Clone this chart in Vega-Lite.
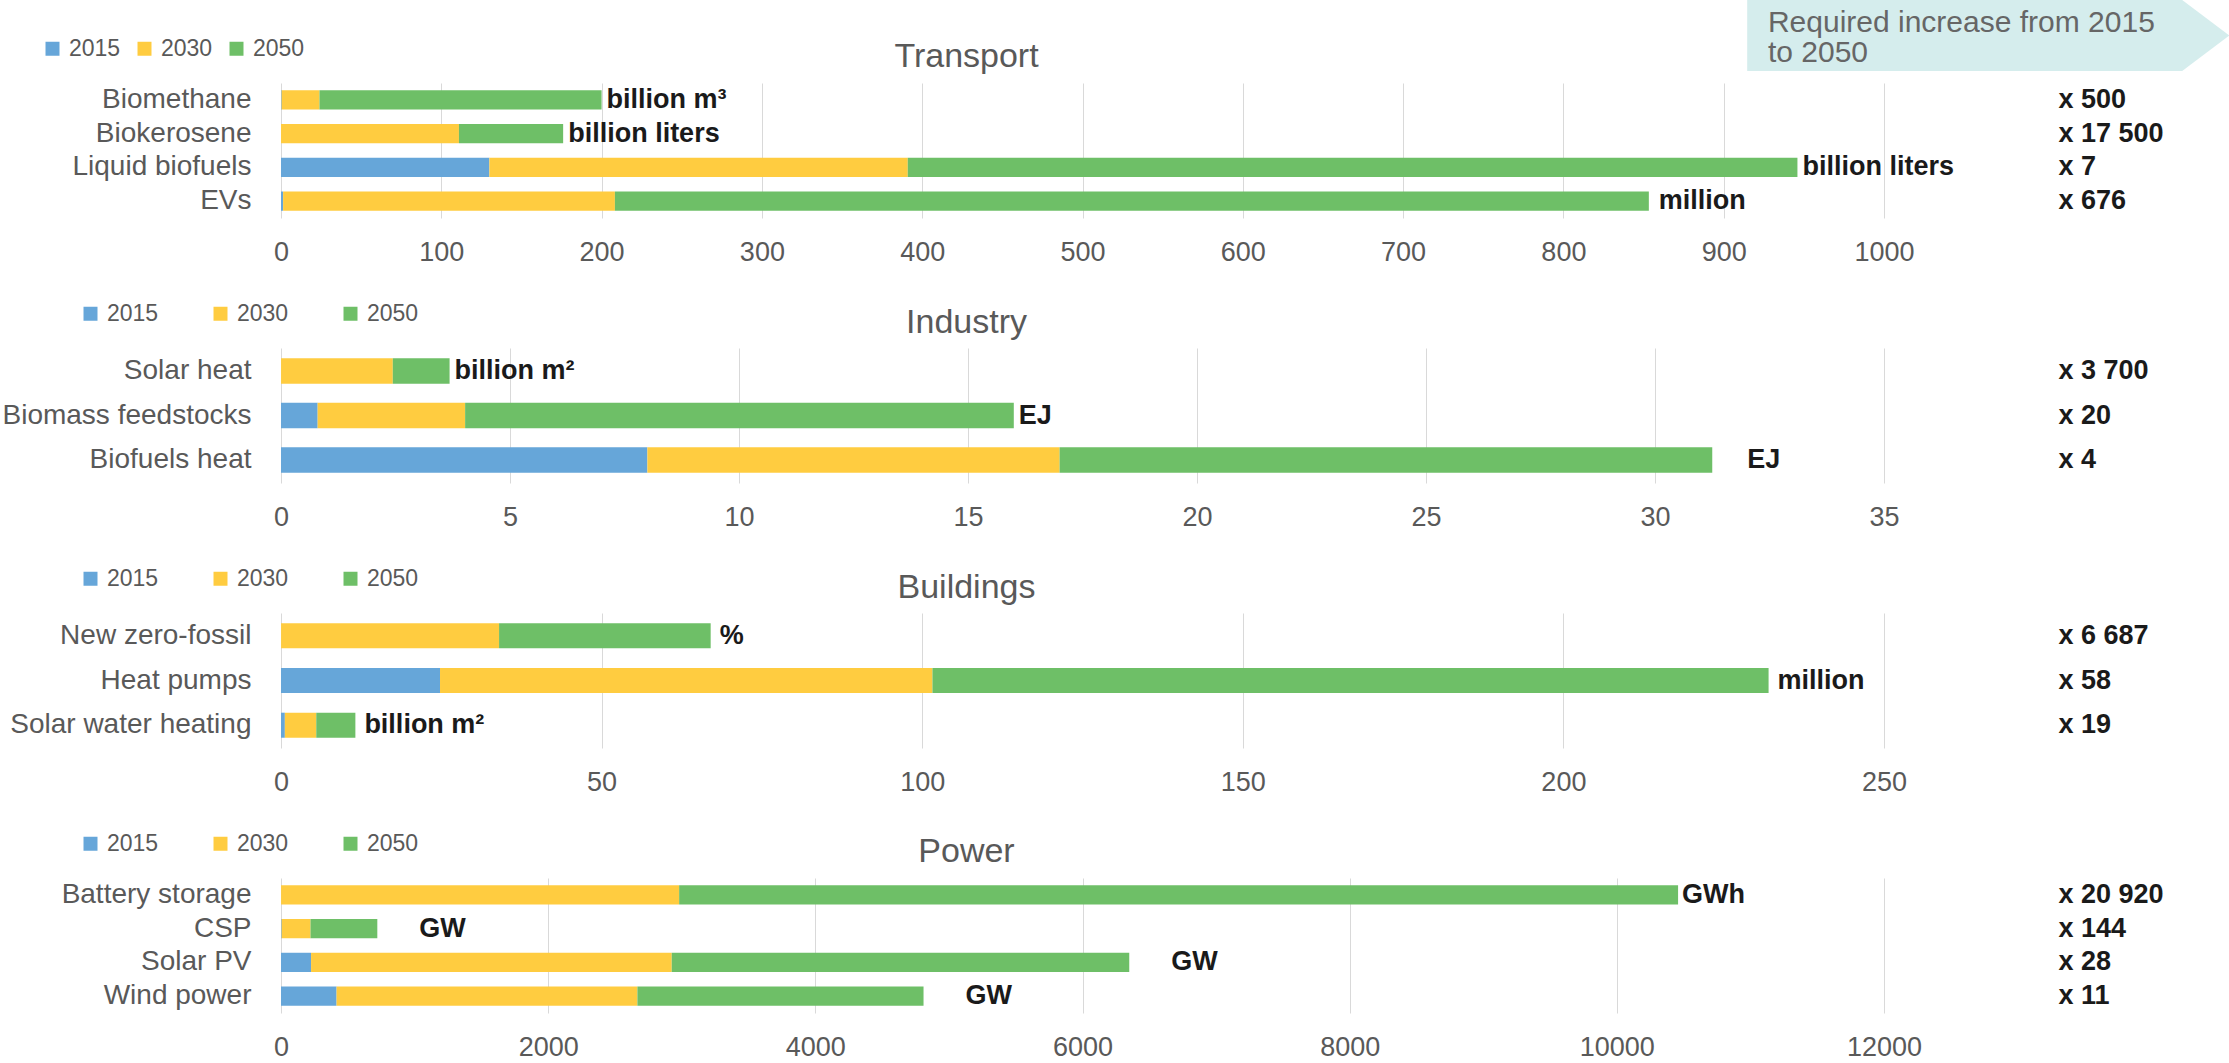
{
  "$schema": "https://vega.github.io/schema/vega-lite/v6.json",
  "padding": {"left": 2, "top": 0, "right": 0, "bottom": 0},
  "background": "white",
  "config": {
    "view": {"stroke": null},
    "font": "Liberation Sans",
    "axis": {"labelFont": "Liberation Sans", "labelColor": "#595959", "domain": false, "ticks": false, "title": null},
    "legend": {"labelFont": "Liberation Sans", "labelFontSize": 23, "labelColor": "#595959", "symbolType": "square", "symbolSize": 196, "symbolStrokeWidth": 0, "symbolOpacity": 1, "labelOffset": 5, "direction": "horizontal", "orient": "none", "title": null, "padding": 0},
    "title": {"font": "Liberation Sans", "fontSize": 34, "color": "#595959", "fontWeight": "normal"}
  },
  "datasets": {
    "transport": [
      {"cat": "Biomethane", "year": "2015", "value": 0.4, "unit": "billion m³"},
      {"cat": "Biomethane", "year": "2030", "value": 23.6, "unit": "billion m³"},
      {"cat": "Biomethane", "year": "2050", "value": 176, "unit": "billion m³"},
      {"cat": "Biokerosene", "year": "2015", "value": 0.01, "unit": "billion liters"},
      {"cat": "Biokerosene", "year": "2030", "value": 111, "unit": "billion liters"},
      {"cat": "Biokerosene", "year": "2050", "value": 65, "unit": "billion liters"},
      {"cat": "Liquid biofuels", "year": "2015", "value": 130, "unit": "billion liters"},
      {"cat": "Liquid biofuels", "year": "2030", "value": 261, "unit": "billion liters"},
      {"cat": "Liquid biofuels", "year": "2050", "value": 555, "unit": "billion liters"},
      {"cat": "EVs", "year": "2015", "value": 1.3, "unit": "million"},
      {"cat": "EVs", "year": "2030", "value": 207, "unit": "million"},
      {"cat": "EVs", "year": "2050", "value": 645, "unit": "million"}
    ],
    "industry": [
      {"cat": "Solar heat", "year": "2015", "value": 0.001, "unit": "billion m²"},
      {"cat": "Solar heat", "year": "2030", "value": 2.44, "unit": "billion m²"},
      {"cat": "Solar heat", "year": "2050", "value": 1.24, "unit": "billion m²"},
      {"cat": "Biomass feedstocks", "year": "2015", "value": 0.8, "unit": "EJ"},
      {"cat": "Biomass feedstocks", "year": "2030", "value": 3.22, "unit": "EJ"},
      {"cat": "Biomass feedstocks", "year": "2050", "value": 11.98, "unit": "EJ"},
      {"cat": "Biofuels heat", "year": "2015", "value": 8.0, "unit": "EJ"},
      {"cat": "Biofuels heat", "year": "2030", "value": 9.0, "unit": "EJ"},
      {"cat": "Biofuels heat", "year": "2050", "value": 14.25, "unit": "EJ"}
    ],
    "buildings": [
      {"cat": "New zero-fossil", "year": "2015", "value": 0.01, "unit": "%"},
      {"cat": "New zero-fossil", "year": "2030", "value": 34, "unit": "%"},
      {"cat": "New zero-fossil", "year": "2050", "value": 33, "unit": "%"},
      {"cat": "Heat pumps", "year": "2015", "value": 24.8, "unit": "million"},
      {"cat": "Heat pumps", "year": "2030", "value": 76.8, "unit": "million"},
      {"cat": "Heat pumps", "year": "2050", "value": 130.4, "unit": "million"},
      {"cat": "Solar water heating", "year": "2015", "value": 0.6, "unit": "billion m²"},
      {"cat": "Solar water heating", "year": "2030", "value": 4.9, "unit": "billion m²"},
      {"cat": "Solar water heating", "year": "2050", "value": 6.1, "unit": "billion m²"}
    ],
    "power": [
      {"cat": "Battery storage", "year": "2015", "value": 0.5, "unit": "GWh"},
      {"cat": "Battery storage", "year": "2030", "value": 2980, "unit": "GWh"},
      {"cat": "Battery storage", "year": "2050", "value": 7478, "unit": "GWh"},
      {"cat": "CSP", "year": "2015", "value": 5, "unit": "GW"},
      {"cat": "CSP", "year": "2030", "value": 216, "unit": "GW"},
      {"cat": "CSP", "year": "2050", "value": 500, "unit": "GW"},
      {"cat": "Solar PV", "year": "2015", "value": 225, "unit": "GW"},
      {"cat": "Solar PV", "year": "2030", "value": 2700, "unit": "GW"},
      {"cat": "Solar PV", "year": "2050", "value": 3425, "unit": "GW"},
      {"cat": "Wind power", "year": "2015", "value": 416, "unit": "GW"},
      {"cat": "Wind power", "year": "2030", "value": 2252, "unit": "GW"},
      {"cat": "Wind power", "year": "2050", "value": 2142, "unit": "GW"}
    ]
  },
  "resolve": {"legend": {"color": "independent"}},
  "bounds": "flush",
  "spacing": 130,
  "vconcat": [
    {
      "width": 1603, "height": 135,
      "title": {"text": "Transport", "anchor": "middle", "frame": "group", "dx": -116, "baseline": "middle", "offset": -91},
      "data": {"name": "transport"},
      "resolve": {"axis": {"y": "independent"}},
      "layer": [
        {
          "mark": {"type": "bar"},
          "encoding": {
            "y": {"field": "cat", "type": "nominal", "sort": ["Biomethane", "Biokerosene", "Liquid biofuels", "EVs"], "scale": {"paddingInner": 0.43, "paddingOuter": 0.215}, "axis": {"orient": "left", "labelFontSize": 28, "labelPadding": 30, "labelLimit": 400}},
            "x": {"field": "value", "type": "quantitative", "stack": "zero", "scale": {"domain": [0, 1000], "nice": false}, "axis": {"values": [0, 100, 200, 300, 400, 500, 600, 700, 800, 900, 1000], "format": "d", "grid": true, "gridColor": "#d9d9d9", "labelFontSize": 27, "labelPadding": 21, "labelFlush": false, "labelOverlap": false}},
            "color": {"field": "year", "type": "nominal", "scale": {"domain": ["2015", "2030", "2050"], "range": ["#66a6d9", "#ffcc40", "#6ebf67"]}, "legend": {"legendX": -240, "legendY": -46, "columnPadding": 12}},
            "order": {"field": "year"}
          }
        },
        {
          "transform": [{"filter": {"not": {"field": "cat", "oneOf": ["EVs"]}}}],
          "mark": {"type": "text", "align": "left", "baseline": "middle", "dx": 5, "fontSize": 27, "fontWeight": "bold", "color": "#1a1a1a"},
          "encoding": {
            "y": {"field": "cat", "type": "nominal", "sort": ["Biomethane", "Biokerosene", "Liquid biofuels", "EVs"], "axis": {"orient": "right", "labelAlign": "left", "labelPadding": 174, "labelFontSize": 27, "labelFontWeight": "bold", "labelColor": "#1a1a1a", "labelLimit": 400, "labelExpr": "datum.value == 'Biomethane' ? 'x 500' : datum.value == 'Biokerosene' ? 'x 17 500' : datum.value == 'Liquid biofuels' ? 'x 7' : 'x 676'"}},
            "x": {"aggregate": "sum", "field": "value", "type": "quantitative"},
            "text": {"field": "unit"}
          }
        },
        {
          "transform": [{"filter": {"field": "cat", "oneOf": ["EVs"]}}],
          "mark": {"type": "text", "align": "left", "baseline": "middle", "dx": 10, "fontSize": 27, "fontWeight": "bold", "color": "#1a1a1a"},
          "encoding": {
            "y": {"field": "cat", "type": "nominal", "sort": ["Biomethane", "Biokerosene", "Liquid biofuels", "EVs"], "axis": null},
            "x": {"aggregate": "sum", "field": "value", "type": "quantitative"},
            "text": {"field": "unit"}
          }
        },
        {
          "data": {"values": [{"note": "callout"}]},
          "mark": {"type": "point", "shape": "M-1,-0.1473L0.805,-0.1473L1,0L0.805,0.1473L-1,0.1473Z", "size": 232324, "filled": true, "fill": "#d5eded", "opacity": 1, "strokeWidth": 0},
          "encoding": {"x": {"datum": 1065, "type": "quantitative"}, "y": {"value": -47.5}}
        },
        {
          "data": {"values": [{"note": "callout"}]},
          "mark": {"type": "text", "text": ["Required increase from 2015", "to 2050"], "lineHeight": 30, "align": "left", "baseline": "middle", "fontSize": 30, "color": "#666666"},
          "encoding": {"x": {"datum": 927.6, "type": "quantitative"}, "y": {"value": -60}}
        }
      ]
    },
    {
      "width": 1603, "height": 135,
      "title": {"text": "Industry", "anchor": "middle", "frame": "group", "dx": -116, "baseline": "middle", "offset": -55},
      "data": {"name": "industry"},
      "resolve": {"axis": {"y": "independent"}},
      "layer": [
        {
          "mark": {"type": "bar"},
          "encoding": {
            "y": {"field": "cat", "type": "nominal", "sort": ["Solar heat", "Biomass feedstocks", "Biofuels heat"], "scale": {"paddingInner": 0.43, "paddingOuter": 0.23}, "axis": {"orient": "left", "labelFontSize": 28, "labelPadding": 30, "labelLimit": 400}},
            "x": {"field": "value", "type": "quantitative", "stack": "zero", "scale": {"domain": [0, 35], "nice": false}, "axis": {"values": [0, 5, 10, 15, 20, 25, 30, 35], "grid": true, "gridColor": "#d9d9d9", "labelFontSize": 27, "labelPadding": 21, "labelFlush": false, "labelOverlap": false}},
            "color": {"field": "year", "type": "nominal", "scale": {"domain": ["2015", "2030", "2050"], "range": ["#66a6d9", "#ffcc40", "#6ebf67"]}, "legend": {"legendX": -202, "legendY": -46, "columnPadding": 50}},
            "order": {"field": "year"}
          }
        },
        {
          "transform": [{"filter": {"not": {"field": "cat", "oneOf": ["Biofuels heat"]}}}],
          "mark": {"type": "text", "align": "left", "baseline": "middle", "dx": 5, "fontSize": 27, "fontWeight": "bold", "color": "#1a1a1a"},
          "encoding": {
            "y": {"field": "cat", "type": "nominal", "sort": ["Solar heat", "Biomass feedstocks", "Biofuels heat"], "axis": {"orient": "right", "labelAlign": "left", "labelPadding": 174, "labelFontSize": 27, "labelFontWeight": "bold", "labelColor": "#1a1a1a", "labelLimit": 400, "labelExpr": "datum.value == 'Solar heat' ? 'x 3 700' : datum.value == 'Biomass feedstocks' ? 'x 20' : 'x 4'"}},
            "x": {"aggregate": "sum", "field": "value", "type": "quantitative"},
            "text": {"field": "unit"}
          }
        },
        {
          "transform": [{"filter": {"field": "cat", "oneOf": ["Biofuels heat"]}}],
          "mark": {"type": "text", "align": "left", "baseline": "middle", "dx": 35, "fontSize": 27, "fontWeight": "bold", "color": "#1a1a1a"},
          "encoding": {
            "y": {"field": "cat", "type": "nominal", "sort": ["Solar heat", "Biomass feedstocks", "Biofuels heat"], "axis": null},
            "x": {"aggregate": "sum", "field": "value", "type": "quantitative"},
            "text": {"field": "unit"}
          }
        }
      ]
    },
    {
      "width": 1603, "height": 135,
      "title": {"text": "Buildings", "anchor": "middle", "frame": "group", "dx": -116, "baseline": "middle", "offset": -55},
      "data": {"name": "buildings"},
      "resolve": {"axis": {"y": "independent"}},
      "layer": [
        {
          "mark": {"type": "bar"},
          "encoding": {
            "y": {"field": "cat", "type": "nominal", "sort": ["New zero-fossil", "Heat pumps", "Solar water heating"], "scale": {"paddingInner": 0.44, "paddingOuter": 0.23}, "axis": {"orient": "left", "labelFontSize": 28, "labelPadding": 30, "labelLimit": 400}},
            "x": {"field": "value", "type": "quantitative", "stack": "zero", "scale": {"domain": [0, 250], "nice": false}, "axis": {"values": [0, 50, 100, 150, 200, 250], "grid": true, "gridColor": "#d9d9d9", "labelFontSize": 27, "labelPadding": 21, "labelFlush": false, "labelOverlap": false}},
            "color": {"field": "year", "type": "nominal", "scale": {"domain": ["2015", "2030", "2050"], "range": ["#66a6d9", "#ffcc40", "#6ebf67"]}, "legend": {"legendX": -202, "legendY": -46, "columnPadding": 50}},
            "order": {"field": "year"}
          }
        },
        {
          "mark": {"type": "text", "align": "left", "baseline": "middle", "dx": 9, "fontSize": 27, "fontWeight": "bold", "color": "#1a1a1a"},
          "encoding": {
            "y": {"field": "cat", "type": "nominal", "sort": ["New zero-fossil", "Heat pumps", "Solar water heating"], "axis": {"orient": "right", "labelAlign": "left", "labelPadding": 174, "labelFontSize": 27, "labelFontWeight": "bold", "labelColor": "#1a1a1a", "labelLimit": 400, "labelExpr": "datum.value == 'New zero-fossil' ? 'x 6 687' : datum.value == 'Heat pumps' ? 'x 58' : 'x 19'"}},
            "x": {"aggregate": "sum", "field": "value", "type": "quantitative"},
            "text": {"field": "unit"}
          }
        }
      ]
    },
    {
      "width": 1603, "height": 135,
      "title": {"text": "Power", "anchor": "middle", "frame": "group", "dx": -116, "baseline": "middle", "offset": -54},
      "data": {"name": "power"},
      "resolve": {"axis": {"y": "independent"}},
      "layer": [
        {
          "mark": {"type": "bar"},
          "encoding": {
            "y": {"field": "cat", "type": "nominal", "sort": ["Battery storage", "CSP", "Solar PV", "Wind power"], "scale": {"paddingInner": 0.43, "paddingOuter": 0.215}, "axis": {"orient": "left", "labelFontSize": 28, "labelPadding": 30, "labelLimit": 400}},
            "x": {"field": "value", "type": "quantitative", "stack": "zero", "scale": {"domain": [0, 12000], "nice": false}, "axis": {"values": [0, 2000, 4000, 6000, 8000, 10000, 12000], "format": "d", "grid": true, "gridColor": "#d9d9d9", "labelFontSize": 27, "labelPadding": 21, "labelFlush": false, "labelOverlap": false}},
            "color": {"field": "year", "type": "nominal", "scale": {"domain": ["2015", "2030", "2050"], "range": ["#66a6d9", "#ffcc40", "#6ebf67"]}, "legend": {"legendX": -202, "legendY": -46, "columnPadding": 50}},
            "order": {"field": "year"}
          }
        },
        {
          "transform": [{"filter": {"field": "cat", "oneOf": ["Battery storage"]}}],
          "mark": {"type": "text", "align": "left", "baseline": "middle", "dx": 4, "fontSize": 27, "fontWeight": "bold", "color": "#1a1a1a"},
          "encoding": {
            "y": {"field": "cat", "type": "nominal", "sort": ["Battery storage", "CSP", "Solar PV", "Wind power"], "axis": {"orient": "right", "labelAlign": "left", "labelPadding": 174, "labelFontSize": 27, "labelFontWeight": "bold", "labelColor": "#1a1a1a", "labelLimit": 400, "labelExpr": "datum.value == 'Battery storage' ? 'x 20 920' : datum.value == 'CSP' ? 'x 144' : datum.value == 'Solar PV' ? 'x 28' : 'x 11'"}},
            "x": {"aggregate": "sum", "field": "value", "type": "quantitative"},
            "text": {"field": "unit"}
          }
        },
        {
          "transform": [{"filter": {"not": {"field": "cat", "oneOf": ["Battery storage"]}}}],
          "mark": {"type": "text", "align": "left", "baseline": "middle", "dx": 42, "fontSize": 27, "fontWeight": "bold", "color": "#1a1a1a"},
          "encoding": {
            "y": {"field": "cat", "type": "nominal", "sort": ["Battery storage", "CSP", "Solar PV", "Wind power"], "axis": null},
            "x": {"aggregate": "sum", "field": "value", "type": "quantitative"},
            "text": {"field": "unit"}
          }
        }
      ]
    }
  ]
}
